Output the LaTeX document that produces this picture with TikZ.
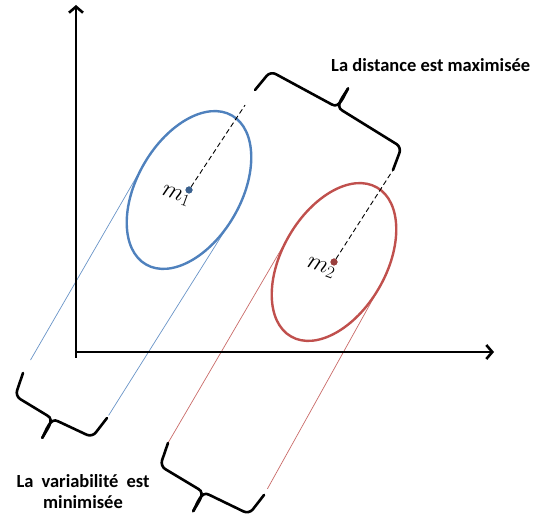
\documentclass[tikz,border=0pt]{standalone}
\usepackage{fontspec}
\setmainfont{Carlito}
\usetikzlibrary{arrows.meta,calc}

\definecolor{clblue}{RGB}{79,129,189}
\definecolor{clred}{RGB}{192,80,77}

\tikzset{
  axis/.style={line width=2.6pt, -{Straight Barb[length=6pt,width=14pt]}},
  cluster/.style={line width=2.4pt},
  proj/.style={line width=0.7pt},
  meanline/.style={line width=0.9pt, dash pattern=on 5pt off 3pt},
  meandot/.style={circle, inner sep=0pt, minimum size=7pt},
  mlabel/.style={font=\fontsize{24}{28}\selectfont, rotate=-20, inner sep=0pt},
  note/.style={font=\fontsize{18.5}{21}\selectfont\bfseries, inner sep=0pt},
  pics/wbrace/.style={code={
    \draw[line width=2.6pt, rounded corners=6pt, line cap=round] (0,0) -- (4,-24) -- ({#1/2-6},-26);
    \draw[line width=2.6pt, line cap=round] ({#1/2-6},-26) to[out=0,in=90] ({#1/2},-48);
    \draw[line width=2.6pt, line cap=round] ({#1/2},-48) to[out=90,in=180] ({#1/2+6},-26);
    \draw[line width=2.6pt, rounded corners=6pt, line cap=round] ({#1/2+6},-26) -- ({#1-4},-24) -- (#1,0);
  }}
}

\begin{document}
\begin{tikzpicture}[x=1pt,y=1pt]
  \useasboundingbox (0,0) rectangle (535,519);

  % Means
  \node[meandot, fill=clblue!75!black] (m1) at (189,329) {};
  \node[meandot, fill=clred!80!black] (m2) at (334,257) {};

  % Tangent points of the clusters
  \coordinate (b1) at ($(m1)+(150:52)$);
  \coordinate (b2) at ($(m1)+(-30:52)$);
  \coordinate (r1) at ($(m2)+(150:52)$);
  \coordinate (r2) at ($(m2)+(-30:52)$);

  % Brace ends
  \coordinate (t1) at (255,429);
  \coordinate (t2) at (393,349);
  \coordinate (c1) at (23,146);
  \coordinate (c2) at (107,101);
  \coordinate (d1) at (168,76);
  \coordinate (d2) at (264,24);

  % Projection lines
  \draw[proj, clblue!85, shorten >=15pt] (b1) -- (c1);
  \draw[proj, clblue!85, shorten >=3pt] (b2) -- (c2);
  \draw[proj, clred!85] (r1) -- (d1);
  \draw[proj, clred!85, shorten >=7pt] (r2) -- (d2);

  % Clusters
  \draw[cluster, clblue, rotate around={60:(m1)}] (m1) ellipse [x radius=86pt, y radius=52pt];
  \draw[cluster, clred, rotate around={60:(m2)}] (m2) ellipse [x radius=86pt, y radius=52pt];

  % Distance between means
  \draw[meanline, shorten >=18pt] (m1) -- (t1);
  \draw[meanline] (m2) -- (t2);

  \node[mlabel] (l1) at ($(m1)+(-13,-6)$) {$m_1$};
  \node[mlabel] (l2) at ($(m2)+(-13,-6)$) {$m_2$};
  \node[meandot, fill=clblue!75!black] at (m1) {};
  \node[meandot, fill=clred!80!black] at (m2) {};

  % Braces
  \pic[rotate=-30.1, yscale=-1] at (t1) {wbrace=159.5};
  \pic[rotate=-28.2] at (c1) {wbrace=95.3};
  \pic[rotate=-28.4] at (d1) {wbrace=109.2};

  % Axes
  \coordinate (o) at (76,167);
  \coordinate (ybot) at (76,161);
  \coordinate (ytop) at (76,514);
  \coordinate (xend) at (494,167);
  \draw[axis] (ybot) -- (ytop);
  \draw[axis] (o) -- (xend);

  % Texts
  \node[note, anchor=west] (maxlab) at (331,454) {La distance est maximisée};
  \node[note, align=center] (minlab) at (83,27) {\spaceskip=8pt La variabilité est\\minimisée};
\end{tikzpicture}
\end{document}
